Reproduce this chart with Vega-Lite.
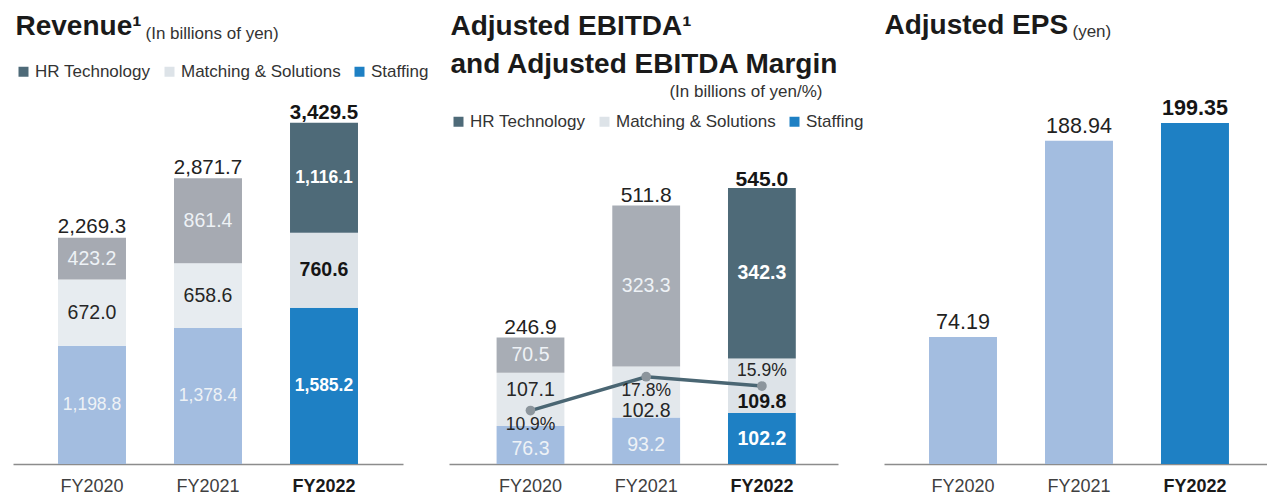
{
  "$schema": "https://vega.github.io/schema/vega-lite/v6.json",
  "background": "white",
  "padding": {"left": 13, "top": 11, "right": 0, "bottom": 0},
  "bounds": "flush",
  "spacing": 46,
  "config": {
    "view": {"stroke": null},
    "font": "Liberation Sans",
    "axis": {"labelFont": "Liberation Sans", "titleFont": "Liberation Sans"}
  },
  "datasets": {
    "rev": [
      {"year": "FY2020", "seg": "Staffing", "value": 1198.8},
      {"year": "FY2020", "seg": "Matching & Solutions", "value": 672.0},
      {"year": "FY2020", "seg": "HR Technology", "value": 423.2},
      {"year": "FY2021", "seg": "Staffing", "value": 1378.4},
      {"year": "FY2021", "seg": "Matching & Solutions", "value": 658.6},
      {"year": "FY2021", "seg": "HR Technology", "value": 861.4},
      {"year": "FY2022", "seg": "Staffing", "value": 1585.2},
      {"year": "FY2022", "seg": "Matching & Solutions", "value": 760.6},
      {"year": "FY2022", "seg": "HR Technology", "value": 1116.1}
    ],
    "revTot": [
      {"year": "FY2020", "total": 2269.3},
      {"year": "FY2021", "total": 2871.7},
      {"year": "FY2022", "total": 3429.5}
    ],
    "ebitda": [
      {"year": "FY2020", "seg": "Staffing", "value": 76.3},
      {"year": "FY2020", "seg": "Matching & Solutions", "value": 107.1},
      {"year": "FY2020", "seg": "HR Technology", "value": 70.5},
      {"year": "FY2021", "seg": "Staffing", "value": 93.2},
      {"year": "FY2021", "seg": "Matching & Solutions", "value": 102.8},
      {"year": "FY2021", "seg": "HR Technology", "value": 323.3},
      {"year": "FY2022", "seg": "Staffing", "value": 102.2},
      {"year": "FY2022", "seg": "Matching & Solutions", "value": 109.8},
      {"year": "FY2022", "seg": "HR Technology", "value": 342.3}
    ],
    "ebitdaTot": [
      {"year": "FY2020", "total": 246.9},
      {"year": "FY2021", "total": 511.8},
      {"year": "FY2022", "total": 545.0}
    ],
    "margin": [
      {"year": "FY2020", "margin": 0.109},
      {"year": "FY2021", "margin": 0.178},
      {"year": "FY2022", "margin": 0.159}
    ],
    "eps": [
      {"year": "FY2020", "eps": 74.19},
      {"year": "FY2021", "eps": 188.94},
      {"year": "FY2022", "eps": 199.35}
    ]
  },
  "hconcat": [
    {
      "width": 390,
      "height": 350,
      "data": {"name": "rev"},
      "encoding": {
        "x": {
          "field": "year", "type": "nominal",
          "scale": {"paddingInner": 0.414, "paddingOuter": 0.388, "align": 0.5},
          "axis": {
            "title": "Revenue¹", "titleX": 2, "titleY": -430, "titleAlign": "left", "titleBaseline": "alphabetic",
            "titleFontSize": 28, "titleFontWeight": "bold", "titleColor": "#1a1a1a", "titleLimit": 1000,
            "labelAngle": 0, "labelFontSize": 18, "labelPadding": 13,
            "labelColor": {"condition": {"test": "datum.value === 'FY2022'", "value": "#1a1a1a"}, "value": "#404040"},
            "labelFontWeight": {"condition": {"test": "datum.value === 'FY2022'", "value": "bold"}, "value": "normal"},
            "ticks": false, "tickSize": 0, "domainColor": "#8c8c8c", "domainWidth": 1.5, "grid": false
          }
        }
      },
      "layer": [
        {
          "transform": [{"filter": "datum.year !== 'FY2022'"}],
          "mark": {"type": "bar"},
          "encoding": {
            "y": {
              "field": "value", "type": "quantitative", "stack": "zero",
              "scale": {"domain": [0, 3550], "nice": false},
              "axis": {
                "title": "(In billions of yen)", "titleAngle": 0, "titleX": 132, "titleY": -76,
                "titleAlign": "left", "titleBaseline": "alphabetic", "titleFontSize": 17,
                "titleFontWeight": "normal", "titleColor": "#333333", "titleLimit": 1000,
                "labels": false, "ticks": false, "domain": false, "grid": false, "minExtent": 0
              }
            },
            "color": {
              "field": "seg", "type": "nominal",
              "scale": {"domain": ["HR Technology", "Matching & Solutions", "Staffing"], "range": ["#a6aab2", "#e7ecf0", "#a3bde0"]},
              "legend": null
            },
            "order": {"field": "seg", "type": "nominal", "sort": "descending"}
          }
        },
        {
          "transform": [{"filter": "datum.year === 'FY2022'"}],
          "mark": {"type": "bar"},
          "encoding": {
            "y": {"field": "value", "type": "quantitative", "stack": "zero", "scale": {"domain": [0, 3550], "nice": false}},
            "color": {
              "field": "seg", "type": "nominal",
              "scale": {"domain": ["HR Technology", "Matching & Solutions", "Staffing"], "range": ["#4e6a78", "#dde3e8", "#1e80c4"]},
              "legend": {
                "orient": "none", "legendX": 2, "legendY": -51, "direction": "horizontal", "title": null,
                "symbolType": "square", "symbolSize": 100, "symbolStrokeWidth": 0,
                "labelFont": "Liberation Sans", "labelFontSize": 17, "labelColor": "#333333",
                "labelOffset": 3, "columnPadding": 10, "padding": 0, "labelLimit": 400
              }
            },
            "order": {"field": "seg", "type": "nominal", "sort": "descending"}
          }
        },
        {
          "transform": [{"filter": "datum.year !== 'FY2022'"}],
          "mark": {"type": "text", "baseline": "middle", "fontSize": 19.5},
          "encoding": {
            "y": {"field": "value", "type": "quantitative", "stack": "zero", "bandPosition": 0.5, "scale": {"domain": [0, 3550], "nice": false}},
            "detail": {"field": "seg", "type": "nominal"},
            "order": {"field": "seg", "type": "nominal", "sort": "descending"},
            "text": {"field": "value", "type": "quantitative", "format": ",.1f"},
            "color": {"condition": {"test": "datum.seg === 'Matching & Solutions'", "value": "#262626"}, "value": "#eef2f6"},
            "size": {"condition": {"test": "datum.value >= 1000", "value": 17.5}, "value": 19.5}
          }
        },
        {
          "transform": [{"filter": "datum.year === 'FY2022'"}],
          "mark": {"type": "text", "baseline": "middle", "fontSize": 19.5, "fontWeight": "bold"},
          "encoding": {
            "y": {"field": "value", "type": "quantitative", "stack": "zero", "bandPosition": 0.5, "scale": {"domain": [0, 3550], "nice": false}},
            "detail": {"field": "seg", "type": "nominal"},
            "order": {"field": "seg", "type": "nominal", "sort": "descending"},
            "text": {"field": "value", "type": "quantitative", "format": ",.1f"},
            "color": {"condition": {"test": "datum.seg === 'Matching & Solutions'", "value": "#151515"}, "value": "#ffffff"},
            "size": {"condition": {"test": "datum.value >= 1000", "value": 17.5}, "value": 19.5}
          }
        },
        {
          "data": {"name": "revTot"},
          "transform": [{"filter": "datum.year !== 'FY2022'"}],
          "mark": {"type": "text", "baseline": "alphabetic", "dy": -7, "fontSize": 20.5, "color": "#222222"},
          "encoding": {
            "y": {"field": "total", "type": "quantitative", "scale": {"domain": [0, 3550], "nice": false}},
            "text": {"field": "total", "type": "quantitative", "format": ",.1f"}
          }
        },
        {
          "data": {"name": "revTot"},
          "transform": [{"filter": "datum.year === 'FY2022'"}],
          "mark": {"type": "text", "baseline": "alphabetic", "dy": -7, "fontSize": 20.5, "fontWeight": "bold", "color": "#151515"},
          "encoding": {
            "y": {"field": "total", "type": "quantitative", "scale": {"domain": [0, 3550], "nice": false}},
            "text": {"field": "total", "type": "quantitative", "format": ",.1f"}
          }
        }
      ],
      "resolve": {"scale": {"color": "independent"}}
    },
    {
      "width": 389,
      "height": 350,
      "encoding": {
        "x": {
          "field": "year", "type": "nominal",
          "scale": {"paddingInner": 0.414, "paddingOuter": 0.388, "align": 0.53},
          "axis": {
            "title": ["Adjusted EBITDA¹", "and Adjusted EBITDA Margin"], "titleLineHeight": 38,
            "titleX": 1, "titleY": -430, "titleAlign": "left", "titleBaseline": "alphabetic",
            "titleFontSize": 28, "titleFontWeight": "bold", "titleColor": "#1a1a1a", "titleLimit": 1000,
            "labelAngle": 0, "labelFontSize": 18, "labelPadding": 13,
            "labelColor": {"condition": {"test": "datum.value === 'FY2022'", "value": "#1a1a1a"}, "value": "#404040"},
            "labelFontWeight": {"condition": {"test": "datum.value === 'FY2022'", "value": "bold"}, "value": "normal"},
            "ticks": false, "tickSize": 0, "domainColor": "#8c8c8c", "domainWidth": 1.5, "grid": false
          }
        }
      },
      "layer": [
        {
          "data": {"name": "ebitda"},
          "layer": [
            {
              "transform": [{"filter": "datum.year !== 'FY2022'"}],
              "mark": {"type": "bar"},
              "encoding": {
                "y": {
                  "field": "value", "type": "quantitative", "stack": "zero",
                  "scale": {"domain": [0, 703], "nice": false},
                  "axis": {
                    "title": "(In billions of yen/%)", "titleAngle": 0, "titleX": 373, "titleY": -18,
                    "titleAlign": "right", "titleBaseline": "alphabetic", "titleFontSize": 17,
                    "titleFontWeight": "normal", "titleColor": "#333333", "titleLimit": 1000,
                    "labels": false, "ticks": false, "domain": false, "grid": false, "minExtent": 0
                  }
                },
                "color": {
                  "field": "seg", "type": "nominal",
                  "scale": {"domain": ["HR Technology", "Matching & Solutions", "Staffing"], "range": ["#a8adb5", "#e3e8ec", "#a3bde0"]},
                  "legend": null
                },
                "order": {"field": "seg", "type": "nominal", "sort": "descending"}
              }
            },
            {
              "transform": [{"filter": "datum.year === 'FY2022'"}],
              "mark": {"type": "bar"},
              "encoding": {
                "y": {"field": "value", "type": "quantitative", "stack": "zero", "scale": {"domain": [0, 703], "nice": false}},
                "color": {
                  "field": "seg", "type": "nominal",
                  "scale": {"domain": ["HR Technology", "Matching & Solutions", "Staffing"], "range": ["#4e6a78", "#dde3e8", "#1e80c4"]},
                  "legend": {
                    "orient": "none", "legendX": 1, "legendY": -1, "direction": "horizontal", "title": null,
                    "symbolType": "square", "symbolSize": 100, "symbolStrokeWidth": 0,
                    "labelFont": "Liberation Sans", "labelFontSize": 17, "labelColor": "#333333",
                    "labelOffset": 3, "columnPadding": 10, "padding": 0, "labelLimit": 400
                  }
                },
                "order": {"field": "seg", "type": "nominal", "sort": "descending"}
              }
            },
            {
              "transform": [{"filter": "datum.year !== 'FY2022'"}],
              "mark": {"type": "text", "baseline": "middle", "fontSize": 19.5, "color": "#eef2f6"},
              "encoding": {
                "y": {"field": "value", "type": "quantitative", "stack": "zero", "bandPosition": 0.5, "scale": {"domain": [0, 703], "nice": false}},
                "detail": {"field": "seg", "type": "nominal"},
                "order": {"field": "seg", "type": "nominal", "sort": "descending"},
                "text": {"condition": {"test": "datum.seg === 'HR Technology'", "field": "value", "type": "quantitative", "format": ".1f"}, "value": ""}
              }
            },
            {
              "transform": [{"filter": "datum.year !== 'FY2022'"}],
              "mark": {"type": "text", "baseline": "middle", "fontSize": 19.5, "color": "#eef2f6"},
              "encoding": {
                "y": {"field": "value", "type": "quantitative", "stack": "zero", "bandPosition": 0.4, "scale": {"domain": [0, 703], "nice": false}},
                "detail": {"field": "seg", "type": "nominal"},
                "order": {"field": "seg", "type": "nominal", "sort": "descending"},
                "text": {"condition": {"test": "datum.seg === 'Staffing'", "field": "value", "type": "quantitative", "format": ".1f"}, "value": ""}
              }
            },
            {
              "transform": [{"filter": "datum.year === 'FY2022'"}],
              "mark": {"type": "text", "baseline": "middle", "fontSize": 19.5, "fontWeight": "bold", "color": "#ffffff"},
              "encoding": {
                "y": {"field": "value", "type": "quantitative", "stack": "zero", "bandPosition": 0.5, "scale": {"domain": [0, 703], "nice": false}},
                "detail": {"field": "seg", "type": "nominal"},
                "order": {"field": "seg", "type": "nominal", "sort": "descending"},
                "text": {"condition": {"test": "datum.seg !== 'Matching & Solutions'", "field": "value", "type": "quantitative", "format": ".1f"}, "value": ""}
              }
            },
            {
              "transform": [{"filter": "datum.year === 'FY2020'"}],
              "mark": {"type": "text", "baseline": "middle", "fontSize": 19.5, "color": "#262626"},
              "encoding": {
                "y": {"field": "value", "type": "quantitative", "stack": "zero", "bandPosition": 0.68, "scale": {"domain": [0, 703], "nice": false}},
                "detail": {"field": "seg", "type": "nominal"},
                "order": {"field": "seg", "type": "nominal", "sort": "descending"},
                "text": {"condition": {"test": "datum.seg === 'Matching & Solutions'", "field": "value", "type": "quantitative", "format": ".1f"}, "value": ""}
              }
            },
            {
              "transform": [{"filter": "datum.year === 'FY2021'"}],
              "mark": {"type": "text", "baseline": "middle", "fontSize": 19.5, "color": "#262626"},
              "encoding": {
                "y": {"field": "value", "type": "quantitative", "stack": "zero", "bandPosition": 0.12, "scale": {"domain": [0, 703], "nice": false}},
                "detail": {"field": "seg", "type": "nominal"},
                "order": {"field": "seg", "type": "nominal", "sort": "descending"},
                "text": {"condition": {"test": "datum.seg === 'Matching & Solutions'", "field": "value", "type": "quantitative", "format": ".1f"}, "value": ""}
              }
            },
            {
              "transform": [{"filter": "datum.year === 'FY2022'"}],
              "mark": {"type": "text", "baseline": "middle", "fontSize": 19.5, "fontWeight": "bold", "color": "#151515"},
              "encoding": {
                "y": {"field": "value", "type": "quantitative", "stack": "zero", "bandPosition": 0.2, "scale": {"domain": [0, 703], "nice": false}},
                "detail": {"field": "seg", "type": "nominal"},
                "order": {"field": "seg", "type": "nominal", "sort": "descending"},
                "text": {"condition": {"test": "datum.seg === 'Matching & Solutions'", "field": "value", "type": "quantitative", "format": ".1f"}, "value": ""}
              }
            },
            {
              "data": {"name": "ebitdaTot"},
              "transform": [{"filter": "datum.year !== 'FY2022'"}],
              "mark": {"type": "text", "baseline": "alphabetic", "dy": -7, "fontSize": 21, "color": "#222222"},
              "encoding": {
                "y": {"field": "total", "type": "quantitative", "scale": {"domain": [0, 703], "nice": false}},
                "text": {"field": "total", "type": "quantitative", "format": ".1f"}
              }
            },
            {
              "data": {"name": "ebitdaTot"},
              "transform": [{"filter": "datum.year === 'FY2022'"}],
              "mark": {"type": "text", "baseline": "alphabetic", "dy": -7, "fontSize": 21, "fontWeight": "bold", "color": "#151515"},
              "encoding": {
                "y": {"field": "total", "type": "quantitative", "scale": {"domain": [0, 703], "nice": false}},
                "text": {"field": "total", "type": "quantitative", "format": ".1f"}
              }
            }
          ],
          "resolve": {"scale": {"color": "independent"}}
        },
        {
          "data": {"name": "margin"},
          "layer": [
            {
              "mark": {"type": "line", "color": "#4a6673", "strokeWidth": 3.5},
              "encoding": {
                "y": {"field": "margin", "type": "quantitative", "scale": {"domain": [0, 0.714], "nice": false}, "axis": null}
              }
            },
            {
              "mark": {"type": "circle", "size": 95, "color": "#8c959c", "opacity": 1},
              "encoding": {
                "y": {"field": "margin", "type": "quantitative", "scale": {"domain": [0, 0.714], "nice": false}, "axis": null}
              }
            },
            {
              "transform": [{"filter": "datum.year !== 'FY2022'"}],
              "mark": {"type": "text", "baseline": "middle", "dy": 14, "fontSize": 17.5, "color": "#262626"},
              "encoding": {
                "y": {"field": "margin", "type": "quantitative", "scale": {"domain": [0, 0.714], "nice": false}, "axis": null},
                "text": {"field": "margin", "type": "quantitative", "format": ".1%"}
              }
            },
            {
              "transform": [{"filter": "datum.year === 'FY2022'"}],
              "mark": {"type": "text", "baseline": "middle", "dy": -15, "fontSize": 17.5, "color": "#262626"},
              "encoding": {
                "y": {"field": "margin", "type": "quantitative", "scale": {"domain": [0, 0.714], "nice": false}, "axis": null},
                "text": {"field": "margin", "type": "quantitative", "format": ".1%"}
              }
            }
          ]
        }
      ],
      "resolve": {"scale": {"y": "independent"}}
    },
    {
      "width": 383,
      "height": 350,
      "data": {"name": "eps"},
      "encoding": {
        "x": {
          "field": "year", "type": "nominal",
          "scale": {"paddingInner": 0.414, "paddingOuter": 0.358, "align": 0.542},
          "axis": {
            "title": "Adjusted EPS", "titleX": 0, "titleY": -431, "titleAlign": "left", "titleBaseline": "alphabetic",
            "titleFontSize": 28, "titleFontWeight": "bold", "titleColor": "#1a1a1a", "titleLimit": 1000,
            "labelAngle": 0, "labelFontSize": 18, "labelPadding": 13,
            "labelColor": {"condition": {"test": "datum.value === 'FY2022'", "value": "#1a1a1a"}, "value": "#404040"},
            "labelFontWeight": {"condition": {"test": "datum.value === 'FY2022'", "value": "bold"}, "value": "normal"},
            "ticks": false, "tickSize": 0, "domainColor": "#8c8c8c", "domainWidth": 1.5, "grid": false
          }
        }
      },
      "layer": [
        {
          "mark": {"type": "bar"},
          "encoding": {
            "y": {
              "field": "eps", "type": "quantitative",
              "scale": {"domain": [0, 204.6], "nice": false},
              "axis": {
                "title": "(yen)", "titleAngle": 0, "titleX": 188, "titleY": -78,
                "titleAlign": "left", "titleBaseline": "alphabetic", "titleFontSize": 17,
                "titleFontWeight": "normal", "titleColor": "#333333", "titleLimit": 1000,
                "labels": false, "ticks": false, "domain": false, "grid": false, "minExtent": 0
              }
            },
            "color": {
              "field": "year", "type": "nominal",
              "scale": {"domain": ["FY2020", "FY2021", "FY2022"], "range": ["#a3bde0", "#a3bde0", "#1e80c4"]},
              "legend": null
            }
          }
        },
        {
          "transform": [{"filter": "datum.year !== 'FY2022'"}],
          "mark": {"type": "text", "baseline": "alphabetic", "dy": -8, "fontSize": 21.5, "color": "#222222"},
          "encoding": {
            "y": {"field": "eps", "type": "quantitative", "scale": {"domain": [0, 204.6], "nice": false}},
            "text": {"field": "eps", "type": "quantitative", "format": ".2f"}
          }
        },
        {
          "transform": [{"filter": "datum.year === 'FY2022'"}],
          "mark": {"type": "text", "baseline": "alphabetic", "dy": -8, "fontSize": 21.5, "fontWeight": "bold", "color": "#151515"},
          "encoding": {
            "y": {"field": "eps", "type": "quantitative", "scale": {"domain": [0, 204.6], "nice": false}},
            "text": {"field": "eps", "type": "quantitative", "format": ".2f"}
          }
        }
      ]
    }
  ]
}
